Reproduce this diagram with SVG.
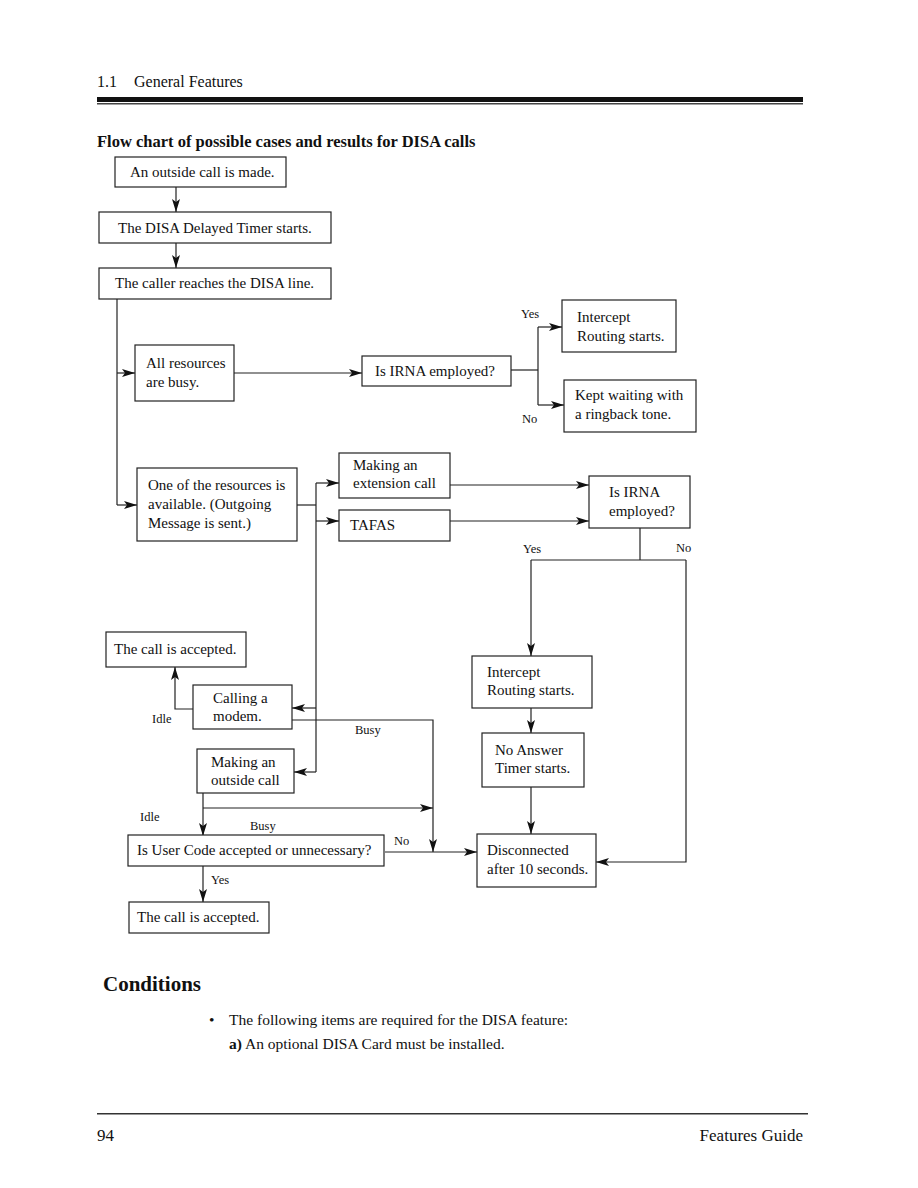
<svg xmlns="http://www.w3.org/2000/svg" width="918" height="1188" viewBox="0 0 918 1188">
<style>
text{font-family:"Liberation Serif","Times New Roman",serif;fill:#111}
.t{font-size:15px}
.l{font-size:12.5px}
.box{fill:#fff;stroke:#222;stroke-width:1.2}
.c{fill:none;stroke:#222;stroke-width:1.2}
</style>
<defs>
<marker id="ar" markerUnits="userSpaceOnUse" markerWidth="14" markerHeight="10" refX="13" refY="4" orient="auto">
<path d="M0,0 L13,4 L0,8 L3,4 z" fill="#111"/>
</marker>
</defs>
<rect width="918" height="1188" fill="#fff"/>
<text x="97" y="87" style="font-size:16px">1.1</text>
<text x="134" y="87" style="font-size:16px">General Features</text>
<rect x="97" y="97" width="706" height="5" fill="#111"/>
<rect x="97" y="103" width="706" height="1.5" fill="#444"/>
<text x="97" y="147" style="font-size:16.5px;font-weight:bold">Flow chart of possible cases and results for DISA calls</text>

<g id="connectors" class="c">
<path d="M176,187 V212" marker-end="url(#ar)"/>
<path d="M176,243 V268" marker-end="url(#ar)"/>
<path d="M117,299 V505"/>
<path d="M117,373 H135" marker-end="url(#ar)"/>
<path d="M117,505 H137" marker-end="url(#ar)"/>
<path d="M234,373 H362" marker-end="url(#ar)"/>
<path d="M511,370 H538"/>
<path d="M538,327 V405"/>
<path d="M538,327 H562" marker-end="url(#ar)"/>
<path d="M538,405 H564" marker-end="url(#ar)"/>
<path d="M297,505 H316"/>
<path d="M316,483 V772"/>
<path d="M316,483 H339" marker-end="url(#ar)"/>
<path d="M316,521 H339" marker-end="url(#ar)"/>
<path d="M316,708 H292" marker-end="url(#ar)"/>
<path d="M316,772 H294" marker-end="url(#ar)"/>
<path d="M450,485 H589" marker-end="url(#ar)"/>
<path d="M450,521 H589" marker-end="url(#ar)"/>
<path d="M640,528 V560"/>
<path d="M531,560 H686"/>
<path d="M531,560 V656" marker-end="url(#ar)"/>
<path d="M686,560 V862 H596" marker-end="url(#ar)"/>
<path d="M531,708 V733" marker-end="url(#ar)"/>
<path d="M531,787 V834" marker-end="url(#ar)"/>
<path d="M193,709 H175 V667" marker-end="url(#ar)"/>
<path d="M292,720 H433 V852" marker-end="url(#ar)"/>
<path d="M203,793 V836" marker-end="url(#ar)"/>
<path d="M203,808 H433" marker-end="url(#ar)"/>
<path d="M385,852 H477" marker-end="url(#ar)"/>
<path d="M203,866 V902" marker-end="url(#ar)"/>
</g>

<g id="n1"><rect class="box" x="115" y="157" width="171" height="30"/><text class="t" x="130" y="177">An outside call is made.</text></g>
<g id="n2"><rect class="box" x="99" y="212" width="232" height="31"/><text class="t" x="118" y="233">The DISA Delayed Timer starts.</text></g>
<g id="n3"><rect class="box" x="99" y="268" width="232" height="31"/><text class="t" x="115" y="288">The caller reaches the DISA line.</text></g>
<g id="n4"><rect class="box" x="135" y="345" width="99" height="56"/><text class="t" x="146" y="368">All resources</text><text class="t" x="146" y="387">are busy.</text></g>
<g id="n5"><rect class="box" x="362" y="356" width="149" height="30"/><text class="t" x="375" y="376">Is IRNA employed?</text></g>
<g id="n6"><rect class="box" x="562" y="300" width="114" height="52"/><text class="t" x="577" y="322">Intercept</text><text class="t" x="577" y="341">Routing starts.</text></g>
<g id="n7"><rect class="box" x="564" y="380" width="132" height="52"/><text class="t" x="575" y="400">Kept waiting with</text><text class="t" x="575" y="419">a ringback tone.</text></g>
<g id="n8"><rect class="box" x="137" y="468" width="160" height="73"/><text class="t" x="148" y="490">One of the resources is</text><text class="t" x="148" y="509">available.  (Outgoing</text><text class="t" x="148" y="528">Message is sent.)</text></g>
<g id="n9"><rect class="box" x="339" y="453" width="111" height="45"/><text class="t" x="353" y="470">Making an</text><text class="t" x="353" y="488">extension call</text></g>
<g id="n10"><rect class="box" x="339" y="510" width="111" height="31"/><text class="t" x="350" y="530">TAFAS</text></g>
<g id="n11"><rect class="box" x="589" y="476" width="101" height="52"/><text class="t" x="609" y="497">Is IRNA</text><text class="t" x="609" y="516">employed?</text></g>
<g id="n12"><rect class="box" x="106" y="632" width="140" height="35"/><text class="t" x="114" y="654">The call is accepted.</text></g>
<g id="n13"><rect class="box" x="193" y="685" width="99" height="44"/><text class="t" x="213" y="703">Calling  a</text><text class="t" x="213" y="721">modem.</text></g>
<g id="n14"><rect class="box" x="197" y="749" width="97" height="44"/><text class="t" x="211" y="767">Making an</text><text class="t" x="211" y="785">outside call</text></g>
<g id="n15"><rect class="box" x="472" y="656" width="120" height="52"/><text class="t" x="487" y="677">Intercept</text><text class="t" x="487" y="695">Routing starts.</text></g>
<g id="n16"><rect class="box" x="482" y="733" width="102" height="54"/><text class="t" x="495" y="755">No Answer</text><text class="t" x="495" y="773">Timer starts.</text></g>
<g id="n17"><rect class="box" x="477" y="834" width="119" height="53"/><text class="t" x="487" y="855">Disconnected</text><text class="t" x="487" y="874">after 10 seconds.</text></g>
<g id="n18"><rect class="box" x="128" y="835" width="256" height="31"/><text class="t" x="137" y="855">Is User Code accepted or unnecessary?</text></g>
<g id="n19"><rect class="box" x="129" y="902" width="140" height="31"/><text class="t" x="137" y="922">The call is accepted.</text></g>

<g id="labels">
<text class="l" x="521" y="318">Yes</text>
<text class="l" x="522" y="423">No</text>
<text class="l" x="523" y="553">Yes</text>
<text class="l" x="676" y="552">No</text>
<text class="l" x="152" y="723">Idle</text>
<text class="l" x="355" y="734">Busy</text>
<text class="l" x="140" y="821">Idle</text>
<text class="l" x="250" y="830">Busy</text>
<text class="l" x="394" y="845">No</text>
<text class="l" x="211" y="884">Yes</text>
</g>

<text x="103" y="991" style="font-size:21px;font-weight:bold">Conditions</text>
<text x="209" y="1025" style="font-size:15.5px">•</text>
<text x="229" y="1025" style="font-size:15.5px">The following items are required for the DISA feature:</text>
<text x="229" y="1049" style="font-size:15.5px"><tspan style="font-weight:bold">a)</tspan> An optional DISA Card must be installed.</text>
<rect x="97" y="1113" width="711" height="1.5" fill="#333"/>
<text x="97" y="1141" style="font-size:17px">94</text>
<text x="803" y="1141" style="font-size:17px" text-anchor="end">Features Guide</text>
</svg>
